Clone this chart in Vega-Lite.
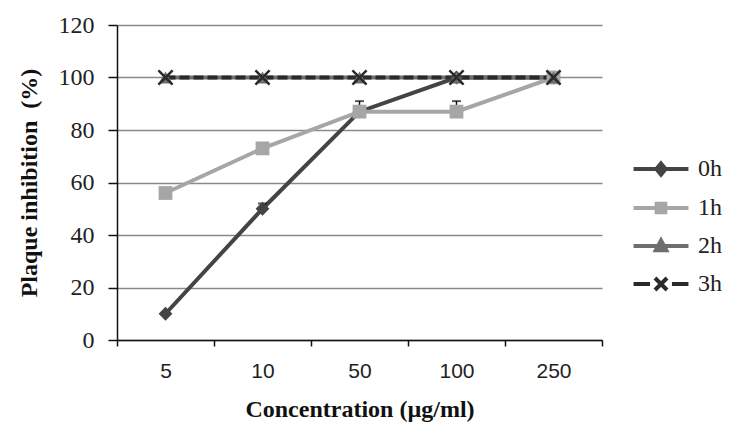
{
  "$schema": "https://vega.github.io/schema/vega-lite/v6.json",
  "width": 485,
  "height": 315,
  "autosize": {"type": "none"},
  "padding": {"left": 117, "top": 25, "right": 139, "bottom": 100},
  "background": "white",
  "config": {"view": {"stroke": null}},
  "data": {
    "values": [
      {"c": "5", "s": "0h", "v": 10, "hi": null},
      {"c": "10", "s": "0h", "v": 50, "hi": 52},
      {"c": "50", "s": "0h", "v": 87, "hi": null},
      {"c": "100", "s": "0h", "v": 100, "hi": null},
      {"c": "250", "s": "0h", "v": 100, "hi": null},
      {"c": "5", "s": "1h", "v": 56, "hi": null},
      {"c": "10", "s": "1h", "v": 73, "hi": null},
      {"c": "50", "s": "1h", "v": 87, "hi": 91},
      {"c": "100", "s": "1h", "v": 87, "hi": 91},
      {"c": "250", "s": "1h", "v": 100, "hi": null},
      {"c": "5", "s": "2h", "v": 100, "hi": null},
      {"c": "10", "s": "2h", "v": 100, "hi": null},
      {"c": "50", "s": "2h", "v": 100, "hi": null},
      {"c": "100", "s": "2h", "v": 100, "hi": null},
      {"c": "250", "s": "2h", "v": 100, "hi": null},
      {"c": "5", "s": "3h", "v": 100, "hi": null},
      {"c": "10", "s": "3h", "v": 100, "hi": null},
      {"c": "50", "s": "3h", "v": 100, "hi": null},
      {"c": "100", "s": "3h", "v": 100, "hi": null},
      {"c": "250", "s": "3h", "v": 100, "hi": null}
    ]
  },
  "encoding": {
    "x": {
      "field": "c",
      "type": "ordinal",
      "sort": ["5", "10", "50", "100", "250"],
      "scale": {"type": "band", "paddingInner": 0, "paddingOuter": 0},
      "axis": {
        "title": "Concentration (µg/ml)",
        "labelAngle": 0,
        "tickBand": "extent",
        "domainColor": "#111111",
        "domainWidth": 1.5,
        "tickColor": "#111111",
        "tickSize": 6,
        "tickWidth": 1.5,
        "labelFont": "Liberation Sans",
        "labelFontSize": 21,
        "labelPadding": 14,
        "labelColor": "#222222",
        "titleFont": "Liberation Serif",
        "titleFontSize": 24,
        "titleFontWeight": "bold",
        "titleColor": "#111111",
        "titlePadding": 16
      }
    },
    "y": {
      "field": "v",
      "type": "quantitative",
      "scale": {"domain": [0, 120], "nice": false},
      "axis": {
        "title": "Plaque inhibition\u00a0\u00a0(%)",
        "values": [0, 20, 40, 60, 80, 100, 120],
        "grid": true,
        "gridColor": "#8a8a8a",
        "gridWidth": 1.5,
        "domainColor": "#111111",
        "domainWidth": 1.5,
        "tickColor": "#111111",
        "tickSize": 9,
        "tickWidth": 1.5,
        "labelFont": "Liberation Serif",
        "labelFontSize": 24,
        "labelColor": "#222222",
        "labelPadding": 14,
        "titleFont": "Liberation Serif",
        "titleFontSize": 24,
        "titleFontWeight": "bold",
        "titleColor": "#111111",
        "titlePadding": 17
      }
    }
  },
  "layer": [
    {
      "transform": [{"filter": "datum.s !== '3h'"}],
      "mark": {"type": "line", "strokeWidth": 4},
      "encoding": {
        "color": {
          "field": "s",
          "type": "nominal",
          "scale": {"domain": ["0h", "1h", "2h", "3h"], "range": ["#444444", "#a6a6a6", "#6e6e6e", "#2a2a2a"]},
          "legend": {
            "orient": "none",
            "legendX": 527,
            "legendY": 127,
            "title": null,
            "symbolSize": 900,
            "labelFont": "Liberation Serif",
            "labelFontSize": 24,
            "labelColor": "#222222",
            "rowPadding": 8,
            "labelOffset": 20,
            "encode": {
              "symbols": {
                "update": {
                  "shape": {"signal": "datum.value === '0h' ? 'M-1.83,0L1.83,0M0,-0.37L0.31,0L0,0.37L-0.31,0Z' : datum.value === '1h' ? 'M-1.83,0L1.83,0M-0.29,-0.29L0.29,-0.29L0.29,0.29L-0.29,0.29Z' : datum.value === '2h' ? 'M-1.83,0L1.83,0M0,-0.37L0.35,0.29L-0.35,0.29Z' : 'M-1.83,0L-0.73,0M0.73,0L1.83,0M-0.4,-0.4L0.4,0.4M0.4,-0.4L-0.4,0.4'"},
                  "fill": {"signal": "scale('color', datum.value)"},
                  "stroke": {"signal": "scale('color', datum.value)"},
                  "strokeWidth": {"value": 4},
                  "opacity": {"value": 1},
                  "fillOpacity": {"value": 1}
                }
              }
            }
          }
        }
      }
    },
    {
      "transform": [{"filter": "datum.s === '3h'"}],
      "mark": {"type": "line", "strokeWidth": 4, "strokeDash": [10, 4]},
      "encoding": {
        "color": {"field": "s", "type": "nominal", "legend": null}
      }
    },
    {
      "transform": [{"filter": "datum.hi != null"}],
      "mark": {"type": "rule", "color": "#111111", "strokeWidth": 1.5},
      "encoding": {"y2": {"field": "hi"}}
    },
    {
      "transform": [{"filter": "datum.hi != null"}],
      "mark": {"type": "tick", "color": "#111111", "thickness": 2, "size": 9},
      "encoding": {"y": {"field": "hi", "type": "quantitative"}}
    },
    {
      "transform": [{"filter": "datum.s !== '3h'"}],
      "mark": {"type": "point", "filled": true, "opacity": 1, "size": 190},
      "encoding": {
        "color": {"field": "s", "type": "nominal", "legend": null},
        "shape": {
          "field": "s",
          "type": "nominal",
          "scale": {"domain": ["0h", "1h", "2h"], "range": ["diamond", "square", "triangle-up"]},
          "legend": null
        }
      }
    },
    {
      "transform": [{"filter": "datum.s === '3h'"}],
      "mark": {"type": "point", "filled": false, "opacity": 1, "size": 200, "strokeWidth": 2.5, "shape": "M-1,-1L1,1M1,-1L-1,1"},
      "encoding": {
        "color": {"field": "s", "type": "nominal", "legend": null}
      }
    }
  ]
}
